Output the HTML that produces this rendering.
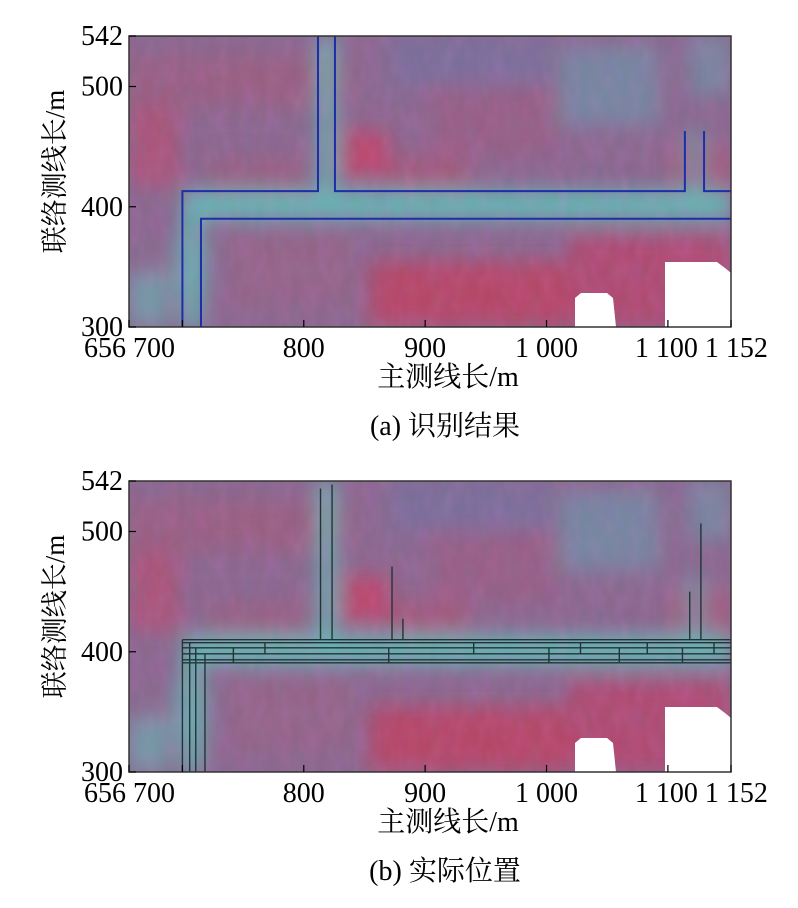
<!DOCTYPE html>
<html><head><meta charset="utf-8">
<style>
html,body{margin:0;padding:0;background:#fff;}
svg text{font-family:"Liberation Serif","Noto Serif CJK SC","Noto Sans CJK SC",serif;fill:#000;}
</style></head>
<body>
<svg id="fig" width="798" height="903" viewBox="0 0 798 903" xmlns="http://www.w3.org/2000/svg">
<defs>
  <filter id="blur" x="-10%" y="-10%" width="120%" height="120%"><feGaussianBlur stdDeviation="10"/></filter>
  <filter id="grain" x="0" y="0" width="100%" height="100%">
    <feTurbulence type="fractalNoise" baseFrequency="0.08 0.04" numOctaves="2" seed="4"/>
    <feColorMatrix type="matrix" values="0.9 0 0 0 0.05  0 0.25 0 0 0.1  0.3 0 0.6 0 0.1  0 0 0 0.6 -0.05"/>
  </filter>
  <clipPath id="clipP"><rect x="0" y="0" width="602" height="291"/></clipPath>
  <g id="heat">
   <g clip-path="url(#clipP)">
    <rect x="0" y="0" width="602" height="291" fill="rgb(138,104,142)"/>
    <g filter="url(#blur)">
      <rect x="0" y="20" width="220" height="50" fill="rgb(165,85,115)" opacity="0.5"/>
      <rect x="0" y="70" width="50" height="80" fill="rgb(195,65,100)" opacity="0.55"/>
      <rect x="80" y="120" width="100" height="35" fill="rgb(160,90,120)" opacity="0.5"/>
      <rect x="260" y="0" width="160" height="50" fill="rgb(110,115,160)" opacity="0.6"/>
      <rect x="215" y="95" width="45" height="45" fill="rgb(210,55,90)" opacity="0.7"/>
      <rect x="260" y="120" width="80" height="30" fill="rgb(185,75,105)" opacity="0.5"/>
      <rect x="300" y="50" width="130" height="70" fill="rgb(160,85,125)" opacity="0.5"/>
      <rect x="430" y="10" width="100" height="80" fill="rgb(100,160,175)" opacity="0.55"/>
      <rect x="540" y="110" width="62" height="40" fill="rgb(185,75,105)" opacity="0.5"/>
      <rect x="560" y="0" width="42" height="60" fill="rgb(100,165,175)" opacity="0.5"/>
      <rect x="0" y="235" width="40" height="56" fill="rgb(105,175,175)" opacity="0.7"/>
      <rect x="40" y="200" width="40" height="60" fill="rgb(110,160,170)" opacity="0.5"/>
      <rect x="240" y="225" width="200" height="66" fill="rgb(200,55,85)" opacity="0.7"/>
      <rect x="100" y="200" width="120" height="70" fill="rgb(155,95,130)" opacity="0.5"/>
      <rect x="440" y="200" width="162" height="91" fill="rgb(195,60,95)" opacity="0.65"/>
      <rect x="60" y="155" width="542" height="28" fill="rgb(95,190,182)" opacity="0.95"/>
      <rect x="54" y="155" width="18" height="136" fill="rgb(95,190,182)" opacity="0.95"/>
      <rect x="190" y="0" width="16" height="160" fill="rgb(95,190,182)" opacity="0.95"/>
      <rect x="556" y="95" width="20" height="60" fill="rgb(100,170,175)" opacity="0.6"/>
    </g>
    <rect x="0" y="0" width="602" height="291" filter="url(#grain)" opacity="0.4"/>
    <path d="M446 291 L446 262 L452 257 L478 257 L484 262 L487 291 Z M536 291 L536 226 L588 226 L596 232 L602 237 L602 291 Z" fill="#fff"/>
   </g>
  </g>
</defs>
<g id="pa"></g>
<g id="pb"></g>
</svg>
<script>
const xTicks=[656,700,800,900,1000,1100,1152];
const xTickLabels=["656","700","800","900","1 000","1 100","1 152"];
const yTicks=[300,400,500,542];
const yTickLabels=["300","400","500","542"];
const pipesA=[
 [[700,300],[700,413],[811.7,413],[811.7,542]],
 [[825.7,542],[825.7,413],[1114,413],[1114,463]],
 [[1129.8,463],[1129.8,413],[1152,413]],
 [[715.3,300],[715.3,390],[1152,390]]
];
const hLinesB=[410,407.5,403.3,398.3,393.3,390.8];
const vLeftB=[700,706,711,718.6];
const vUpB=[[813.8,535.8],[823.3,539],[872.7,470.8],[881.7,427.5],[1118,450],[1127.2,506.7]];
const connB=[742,768,870,940,1002,1028,1060,1083,1112,1138];
const NS="http://www.w3.org/2000/svg";
const X0=129,PW=602,PH=291,XMIN=656,XMAX=1152,YMIN=300,YMAX=542;
const FS=28;
function sx(v){return X0+(v-XMIN)/(XMAX-XMIN)*PW;}
function mk(t,a,p){const e=document.createElementNS(NS,t);for(const k in a)e.setAttribute(k,a[k]);p.appendChild(e);return e;}
function panel(g,top,caption,isA){
  const sy=v=>top+PH-(v-YMIN)/(YMAX-YMIN)*PH;
  const hm=mk('use',{href:'#heat',x:X0,y:top},g);
  
  
  const lg=mk('g',{},g);
  
  
  if(isA){
    pipesA.forEach(p=>{
      const l=mk('polyline',{points:p.map(q=>sx(q[0])+','+sy(q[1])).join(' '),fill:'none',stroke:'#1a2fa8','stroke-width':2},lg);
      
      
    });
  } else {
    const st={stroke:'#1f3636','stroke-width':1.4,fill:'none'};
    hLinesB.forEach(h=>{
      const l=mk('line',Object.assign({x1:sx(700),x2:sx(1152),y1:sy(h),y2:sy(h)},st),lg);
      
      
    });
    vLeftB.forEach((v,i)=>{
      const l=mk('line',Object.assign({x1:sx(v),x2:sx(v),y1:sy(300),y2:sy(hLinesB[i])},st),lg);
      
      
    });
    vUpB.forEach(v=>{
      const l=mk('line',Object.assign({x1:sx(v[0]),x2:sx(v[0]),y1:sy(v[1]),y2:sy(hLinesB[0])},st),lg);
      
      
    });
    connB.forEach((c,i)=>{
      const l=mk('line',Object.assign({x1:sx(c),x2:sx(c),y1:sy(hLinesB[i%2?1:2]),y2:sy(hLinesB[i%2?3:5])},st),lg);
      
      
    });
  }
  const fr=mk('rect',{x:X0,y:top,width:PW,height:PH,fill:'none',stroke:'#333','stroke-width':1.5},g);
  
  
  xTicks.forEach(v=>{
    const t=mk('line',{x1:sx(v),x2:sx(v),y1:top+PH,y2:top+PH-7,stroke:'#000','stroke-width':1.2},g);
    
    
  });
  const xl=mk('text',{x:X0-45,y:top+PH+30,'font-size':FS},g);
  xl.textContent=xTickLabels[0]+' '+xTickLabels[1];
  
  
  xTicks.slice(2,5).forEach((v,i)=>{
    const t=mk('text',{x:sx(v),y:top+PH+30,'font-size':FS,'text-anchor':'middle'},g);
    t.textContent=xTickLabels[i+2];
    
    
  });
  const xr=mk('text',{x:sx(1100)-33,y:top+PH+30,'font-size':FS},g);
  xr.textContent=xTickLabels[5]+' '+xTickLabels[6];
  
  
  yTicks.forEach((v,i)=>{
    const t=mk('line',{x1:X0,x2:X0+7,y1:sy(v),y2:sy(v),stroke:'#000','stroke-width':1.2},g);
    
    
    const tl=mk('text',{x:X0-6,y:sy(v)+9,'font-size':FS,'text-anchor':'end'},g);
    tl.textContent=yTickLabels[i];
    
    
  });
  const yt=mk('text',{x:0,y:0,'font-size':27,'text-anchor':'middle',transform:`translate(64 ${top+PH/2-10}) rotate(-90)`},g);
  yt.textContent='联络测线长/m';
  
  
  const xt=mk('text',{x:448,y:top+PH+59,'font-size':28,'text-anchor':'middle'},g);
  xt.textContent='主测线长/m';
  
  
  const cp=mk('text',{x:445,y:top+PH+108,'font-size':28,'text-anchor':'middle'},g);
  cp.textContent=caption;
  
  
}
panel(document.getElementById('pa'),36,'(a)  识别结果',true);
panel(document.getElementById('pb'),481,'(b)  实际位置',false);
</script>
</body></html>
